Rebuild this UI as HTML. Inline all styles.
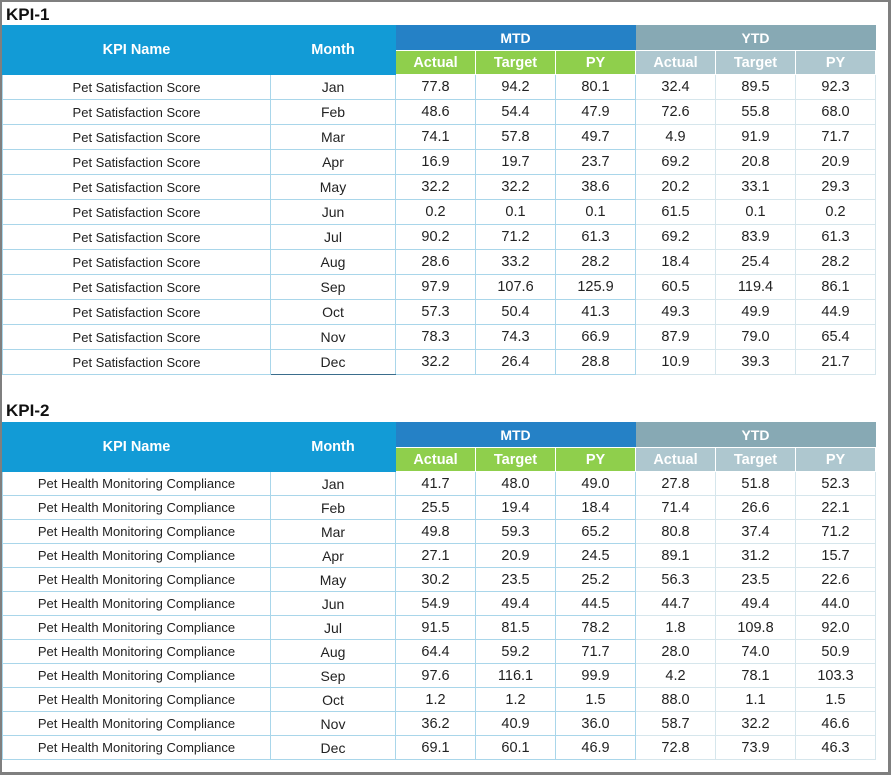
<!DOCTYPE html>
<html><head><meta charset="utf-8"><style>
*{margin:0;padding:0;box-sizing:border-box}
body{width:892px;height:775px;background:#fff;position:relative;overflow:hidden;font-family:"Liberation Sans",Arial,sans-serif}
.frame{position:absolute;left:0;top:0;width:891px;height:775px;border:2px solid #7f7f7f;border-right-width:3px;border-bottom-width:3px}
.ttl{position:absolute;left:6px;font-weight:bold;font-size:17px;color:#111}
table{position:absolute;left:2px;border-collapse:collapse;table-layout:fixed}
td{text-align:center;vertical-align:middle;border:1px solid #a9d6ea;color:#222;font-size:14.5px;white-space:nowrap;overflow:hidden}
td.n{font-size:13px}
td.m{font-size:14px}
.h{background:#129bd6;color:#fff;font-weight:bold;font-size:14.5px;border:1px solid #129bd6}
.mtd{background:#2581c6;color:#fff;font-weight:bold;font-size:14px;border:1px solid #2581c6;border-bottom:1px solid #fff}
.ytd{background:#87a9b4;color:#fff;font-weight:bold;font-size:14px;border:1px solid #87a9b4;border-bottom:1px solid #fff}
.g{background:#8fcf4c;color:#fff;font-weight:bold;font-size:14.5px;border:1px solid #fff;border-top:none}
.y{background:#aec7cf;color:#fff;font-weight:bold;font-size:14.5px;border:1px solid #fff;border-top:none}
td.yv{border-color:#d6e6ec}
</style></head><body>
<div class="frame"></div>
<div class="ttl" style="top:5px">KPI-1</div>
<table style="top:25px">
<colgroup><col style="width:268px"><col style="width:125px"><col style="width:80px"><col style="width:80px"><col style="width:80px"><col style="width:80px"><col style="width:80px"><col style="width:80px"></colgroup>
<tr style="height:25px"><td class="h" rowspan="2">KPI Name</td><td class="h" rowspan="2">Month</td><td class="mtd" colspan="3">MTD</td><td class="ytd" colspan="3">YTD</td></tr>
<tr style="height:24px"><td class="g">Actual</td><td class="g">Target</td><td class="g">PY</td><td class="y">Actual</td><td class="y">Target</td><td class="y">PY</td></tr>
<tr style="height:25px"><td class="n">Pet Satisfaction Score</td><td class="m">Jan</td><td>77.8</td><td>94.2</td><td>80.1</td><td class="yv">32.4</td><td class="yv">89.5</td><td class="yv">92.3</td></tr>
<tr style="height:25px"><td class="n">Pet Satisfaction Score</td><td class="m">Feb</td><td>48.6</td><td>54.4</td><td>47.9</td><td class="yv">72.6</td><td class="yv">55.8</td><td class="yv">68.0</td></tr>
<tr style="height:25px"><td class="n">Pet Satisfaction Score</td><td class="m">Mar</td><td>74.1</td><td>57.8</td><td>49.7</td><td class="yv">4.9</td><td class="yv">91.9</td><td class="yv">71.7</td></tr>
<tr style="height:25px"><td class="n">Pet Satisfaction Score</td><td class="m">Apr</td><td>16.9</td><td>19.7</td><td>23.7</td><td class="yv">69.2</td><td class="yv">20.8</td><td class="yv">20.9</td></tr>
<tr style="height:25px"><td class="n">Pet Satisfaction Score</td><td class="m">May</td><td>32.2</td><td>32.2</td><td>38.6</td><td class="yv">20.2</td><td class="yv">33.1</td><td class="yv">29.3</td></tr>
<tr style="height:25px"><td class="n">Pet Satisfaction Score</td><td class="m">Jun</td><td>0.2</td><td>0.1</td><td>0.1</td><td class="yv">61.5</td><td class="yv">0.1</td><td class="yv">0.2</td></tr>
<tr style="height:25px"><td class="n">Pet Satisfaction Score</td><td class="m">Jul</td><td>90.2</td><td>71.2</td><td>61.3</td><td class="yv">69.2</td><td class="yv">83.9</td><td class="yv">61.3</td></tr>
<tr style="height:25px"><td class="n">Pet Satisfaction Score</td><td class="m">Aug</td><td>28.6</td><td>33.2</td><td>28.2</td><td class="yv">18.4</td><td class="yv">25.4</td><td class="yv">28.2</td></tr>
<tr style="height:25px"><td class="n">Pet Satisfaction Score</td><td class="m">Sep</td><td>97.9</td><td>107.6</td><td>125.9</td><td class="yv">60.5</td><td class="yv">119.4</td><td class="yv">86.1</td></tr>
<tr style="height:25px"><td class="n">Pet Satisfaction Score</td><td class="m">Oct</td><td>57.3</td><td>50.4</td><td>41.3</td><td class="yv">49.3</td><td class="yv">49.9</td><td class="yv">44.9</td></tr>
<tr style="height:25px"><td class="n">Pet Satisfaction Score</td><td class="m">Nov</td><td>78.3</td><td>74.3</td><td>66.9</td><td class="yv">87.9</td><td class="yv">79.0</td><td class="yv">65.4</td></tr>
<tr style="height:25px"><td class="n">Pet Satisfaction Score</td><td class="m" style="border-bottom-color:#3a6d8c">Dec</td><td>32.2</td><td>26.4</td><td>28.8</td><td class="yv">10.9</td><td class="yv">39.3</td><td class="yv">21.7</td></tr>
</table>
<div class="ttl" style="top:401px">KPI-2</div>
<table style="top:422px">
<colgroup><col style="width:268px"><col style="width:125px"><col style="width:80px"><col style="width:80px"><col style="width:80px"><col style="width:80px"><col style="width:80px"><col style="width:80px"></colgroup>
<tr style="height:25px"><td class="h" rowspan="2">KPI Name</td><td class="h" rowspan="2">Month</td><td class="mtd" colspan="3">MTD</td><td class="ytd" colspan="3">YTD</td></tr>
<tr style="height:24px"><td class="g">Actual</td><td class="g">Target</td><td class="g">PY</td><td class="y">Actual</td><td class="y">Target</td><td class="y">PY</td></tr>
<tr style="height:24px"><td class="n">Pet Health Monitoring Compliance</td><td class="m">Jan</td><td>41.7</td><td>48.0</td><td>49.0</td><td class="yv">27.8</td><td class="yv">51.8</td><td class="yv">52.3</td></tr>
<tr style="height:24px"><td class="n">Pet Health Monitoring Compliance</td><td class="m">Feb</td><td>25.5</td><td>19.4</td><td>18.4</td><td class="yv">71.4</td><td class="yv">26.6</td><td class="yv">22.1</td></tr>
<tr style="height:24px"><td class="n">Pet Health Monitoring Compliance</td><td class="m">Mar</td><td>49.8</td><td>59.3</td><td>65.2</td><td class="yv">80.8</td><td class="yv">37.4</td><td class="yv">71.2</td></tr>
<tr style="height:24px"><td class="n">Pet Health Monitoring Compliance</td><td class="m">Apr</td><td>27.1</td><td>20.9</td><td>24.5</td><td class="yv">89.1</td><td class="yv">31.2</td><td class="yv">15.7</td></tr>
<tr style="height:24px"><td class="n">Pet Health Monitoring Compliance</td><td class="m">May</td><td>30.2</td><td>23.5</td><td>25.2</td><td class="yv">56.3</td><td class="yv">23.5</td><td class="yv">22.6</td></tr>
<tr style="height:24px"><td class="n">Pet Health Monitoring Compliance</td><td class="m">Jun</td><td>54.9</td><td>49.4</td><td>44.5</td><td class="yv">44.7</td><td class="yv">49.4</td><td class="yv">44.0</td></tr>
<tr style="height:24px"><td class="n">Pet Health Monitoring Compliance</td><td class="m">Jul</td><td>91.5</td><td>81.5</td><td>78.2</td><td class="yv">1.8</td><td class="yv">109.8</td><td class="yv">92.0</td></tr>
<tr style="height:24px"><td class="n">Pet Health Monitoring Compliance</td><td class="m">Aug</td><td>64.4</td><td>59.2</td><td>71.7</td><td class="yv">28.0</td><td class="yv">74.0</td><td class="yv">50.9</td></tr>
<tr style="height:24px"><td class="n">Pet Health Monitoring Compliance</td><td class="m">Sep</td><td>97.6</td><td>116.1</td><td>99.9</td><td class="yv">4.2</td><td class="yv">78.1</td><td class="yv">103.3</td></tr>
<tr style="height:24px"><td class="n">Pet Health Monitoring Compliance</td><td class="m">Oct</td><td>1.2</td><td>1.2</td><td>1.5</td><td class="yv">88.0</td><td class="yv">1.1</td><td class="yv">1.5</td></tr>
<tr style="height:24px"><td class="n">Pet Health Monitoring Compliance</td><td class="m">Nov</td><td>36.2</td><td>40.9</td><td>36.0</td><td class="yv">58.7</td><td class="yv">32.2</td><td class="yv">46.6</td></tr>
<tr style="height:24px"><td class="n">Pet Health Monitoring Compliance</td><td class="m">Dec</td><td>69.1</td><td>60.1</td><td>46.9</td><td class="yv">72.8</td><td class="yv">73.9</td><td class="yv">46.3</td></tr>
</table>
</body></html>
